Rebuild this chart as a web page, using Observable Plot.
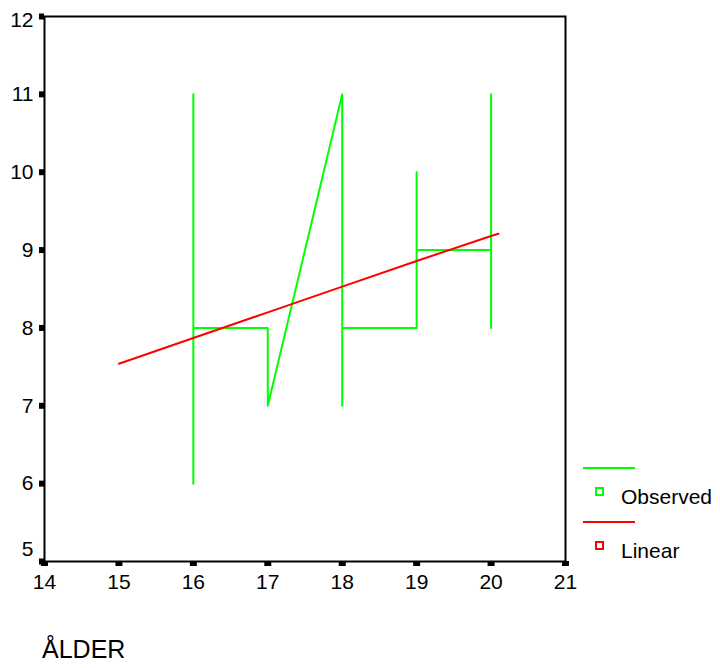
<!DOCTYPE html>
<html><head><meta charset="utf-8">
<script src="https://cdn.jsdelivr.net/npm/d3@7"></script>
<script src="https://cdn.jsdelivr.net/npm/@observablehq/plot@0.6"></script>
<style>
body{margin:0;background:#fff;font-family:"Liberation Sans",Arial,sans-serif}
#wrap{position:relative;width:720px;height:668px;background:#fff}
.lline{position:absolute;height:2px;width:52px}
.lsq{position:absolute;width:5px;height:5px;border:2px solid}
.ltxt{position:absolute;font-size:21px;line-height:1;color:#000;white-space:nowrap}
#xlab{position:absolute;left:42px;top:637px;font-size:25px;line-height:1;color:#000}
</style></head><body><div id="wrap"></div>
<script>
// Observed series (in drawing order)
const obsX = [16, 16, 16, 17, 17, 18, 18, 18, 19, 19, 19, 20, 20, 20];
const obsY = [11, 6, 8, 8, 7, 11, 7, 8, 8, 10, 9, 9, 11, 8];
// Linear fit
const fitX = [15, 16, 17, 18, 19, 20, 20.1];
const fitY = [7.54, 7.87, 8.2, 8.53, 8.86, 9.18, 9.21];
// Ticks
const xTicks = [14, 15, 16, 17, 18, 19, 20, 21];
const yTicks = [5, 6, 7, 8, 9, 10, 11, 12];
const legendLabels = ["Observed", "Linear"];
const legendColors = ["#00ff00", "#ff0000"];
const xTitle = "ÅLDER";

const obs = obsX.map((x, i) => ({x, y: obsY[i]}));
const fit = fitX.map((x, i) => ({x, y: fitY[i]}));

const yMid = yTicks.slice(1, -1);
const yFirst = [yTicks[0]];
const yLast = [yTicks[yTicks.length - 1]];
const yText = {tickFormat: d => String(d), tickSize: 0, tickPadding: 11, label: null, fontSize: 21};

const chart = Plot.plot({
  width: 720, height: 668,
  marginLeft: 44, marginTop: 16, marginRight: 155, marginBottom: 107,
  x: {domain: [14, 21]},
  y: {domain: [5, 12]},
  style: {fontFamily: "'Liberation Sans', Arial, sans-serif", fontSize: "21px", color: "#000", background: "#fff"},
  marks: [
    Plot.line(obs, {x: "x", y: "y", stroke: legendColors[0], strokeWidth: 2}),
    Plot.line(fit, {x: "x", y: "y", stroke: legendColors[1], strokeWidth: 2}),
    Plot.frame({stroke: "#000", strokeWidth: 2}),
    Plot.axisX({ticks: xTicks, tickFormat: d => String(d), tickSize: 5, strokeWidth: 7, tickPadding: 8, label: null, fontSize: 21}),
    Plot.axisY({ticks: yTicks, tickFormat: () => "", tickSize: 5, strokeWidth: 6, label: null}),
    Plot.axisY({...yText, ticks: yMid}),
    Plot.axisY({...yText, ticks: yLast, dy: 4}),
    Plot.axisY({...yText, ticks: yFirst, dy: -12})
  ]
});
const wrap = document.getElementById("wrap");
wrap.appendChild(chart);

// legend
const legendTops = [[467, 487, 491], [521, 541, 545]];
legendLabels.forEach((lab, i) => {
  const [ly, sy, ty] = legendTops[i];
  const l = document.createElement("div"); l.className = "lline";
  l.style.left = "583px"; l.style.top = ly + "px"; l.style.background = legendColors[i];
  wrap.appendChild(l);
  const s = document.createElement("div"); s.className = "lsq";
  s.style.left = "595px"; s.style.top = sy + "px"; s.style.borderColor = legendColors[i];
  wrap.appendChild(s);
  const t = document.createElement("div"); t.className = "ltxt";
  t.style.left = "621px"; t.style.top = (ty - 5) + "px"; t.textContent = lab;
  wrap.appendChild(t);
});
const xl = document.createElement("div"); xl.id = "xlab"; xl.textContent = xTitle;
wrap.appendChild(xl);
</script></body></html>
